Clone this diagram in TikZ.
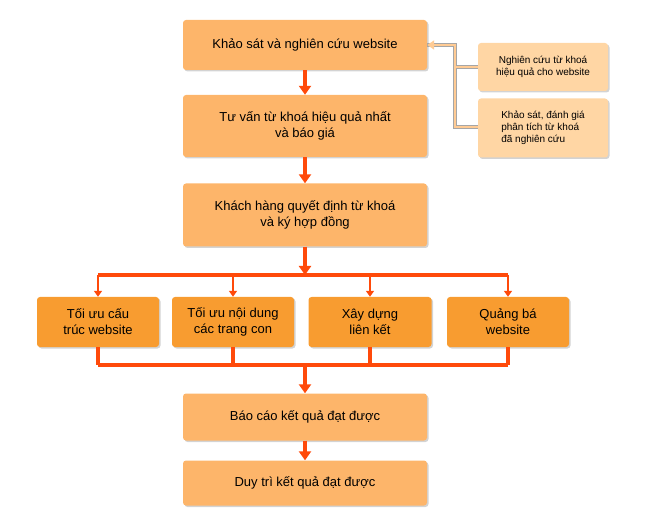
\documentclass[tikz,border=0pt]{standalone}
\usepackage{fontspec}
\setmainfont{Liberation Sans}
\usetikzlibrary{arrows.meta}
\usetikzlibrary{shadows}
\definecolor{boxlight}{HTML}{FDB56A}
\definecolor{boxdark}{HTML}{F89C30}
\definecolor{sidebox}{HTML}{FFD6A4}
\definecolor{flow}{HTML}{FF4A0A}
\definecolor{sideline}{HTML}{FFCB94}

\begin{document}
\begin{tikzpicture}[x=1pt,y=-1pt,
  mainbox/.style={fill=boxlight,rounded corners=3pt,drop shadow={shadow xshift=1.5pt,shadow yshift=-1.5pt,opacity=.35},
    align=center,font=\fontsize{13}{16}\selectfont,inner sep=0pt},
  midbox/.style={mainbox,fill=boxdark},
  sidenode/.style={mainbox,fill=sidebox,font=\fontsize{10}{12}\selectfont},
  flowline/.style={draw=flow,line width=3.5pt},
  flowarrow/.style={flowline,-{Triangle[length=9pt,width=12pt]}},
  droparrow/.style={flowline,line width=2.5pt,-{Triangle[length=6pt,width=8pt]}}]
\useasboundingbox (0,0) rectangle (650,526);
% main column
\node[mainbox,minimum width=244pt,minimum height=50pt](Khaosat)at(305,45){Khảo sát và nghiên cứu website};
\node[mainbox,minimum width=244pt,minimum height=62pt](Tuvan)at(305,126){Tư vấn từ khoá hiệu quả nhất\\và báo giá};
\node[mainbox,minimum width=244pt,minimum height=63pt](Quyetdinh)at(305,215){Khách hàng quyết định từ khoá\\và ký hợp đồng};
\node[mainbox,minimum width=244pt,minimum height=47pt](Baocao)at(305,417){Báo cáo kết quả đạt được};
\node[mainbox,minimum width=244pt,minimum height=45pt](Duytri)at(305,483){Duy trì kết quả đạt được};
% four tasks
\node[midbox,minimum width=122pt,minimum height=50pt](Cautruc)at(98,322){Tối ưu cấu\\trúc website};
\node[midbox,minimum width=122pt,minimum height=50pt](Noidung)at(233,322){Tối ưu nội dung\\các trang con};
\node[midbox,minimum width=123pt,minimum height=50pt](Lienket)at(370,322){Xây dựng\\liên kết};
\node[midbox,minimum width=122pt,minimum height=50pt](Quangba)at(508,322){Quảng bá\\website};
% side notes
\node[sidenode,minimum width=130pt,minimum height=48pt](Nghiencuu)at(543,67){Nghiên cứu từ khoá\\hiệu quả cho website};
\node[sidenode,minimum width=130pt,minimum height=59pt,align=left](Danhgia)at(543,128){Khảo sát, đánh giá\\phân tích từ khoá\\đã nghiên cứu};
% side connector
\coordinate(Nga)at(455,45);
\draw[draw=gray!70,line width=4pt](Danhgia.west|-0,127)-|(Nga)--(Khaosat.east);
\draw[draw=gray!70,line width=4pt](Nghiencuu.west)--(455,67);
\draw[draw=sideline,line width=2.5pt,-{Triangle[length=7pt,width=9pt]}](Danhgia.west|-0,127)-|(Nga)--(Khaosat.east);
\draw[draw=sideline,line width=2.5pt](Nghiencuu.west)--(455,67);
% flow
\draw[flowarrow](Khaosat)--(Tuvan);
\draw[flowarrow](Tuvan)--(Quyetdinh);
\coordinate(Tach)at(305,275);
\coordinate(Gop)at(305,365);
\draw[flowarrow](Quyetdinh)--(Tach);
\draw[flowline](Cautruc.north|-Tach)--(Quangba.north|-Tach);
\foreach \n in {Cautruc,Noidung,Lienket,Quangba}{
  \draw[droparrow](\n.north|-Tach)--(\n.north);
  \draw[flowline](\n.south)--(\n.south|-Gop);
}
\draw[flowline](Cautruc.south|-Gop)--(Quangba.south|-Gop);
\draw[flowarrow](Gop)--(Baocao);
\draw[flowarrow](Baocao)--(Duytri);
\end{tikzpicture}
\end{document}
